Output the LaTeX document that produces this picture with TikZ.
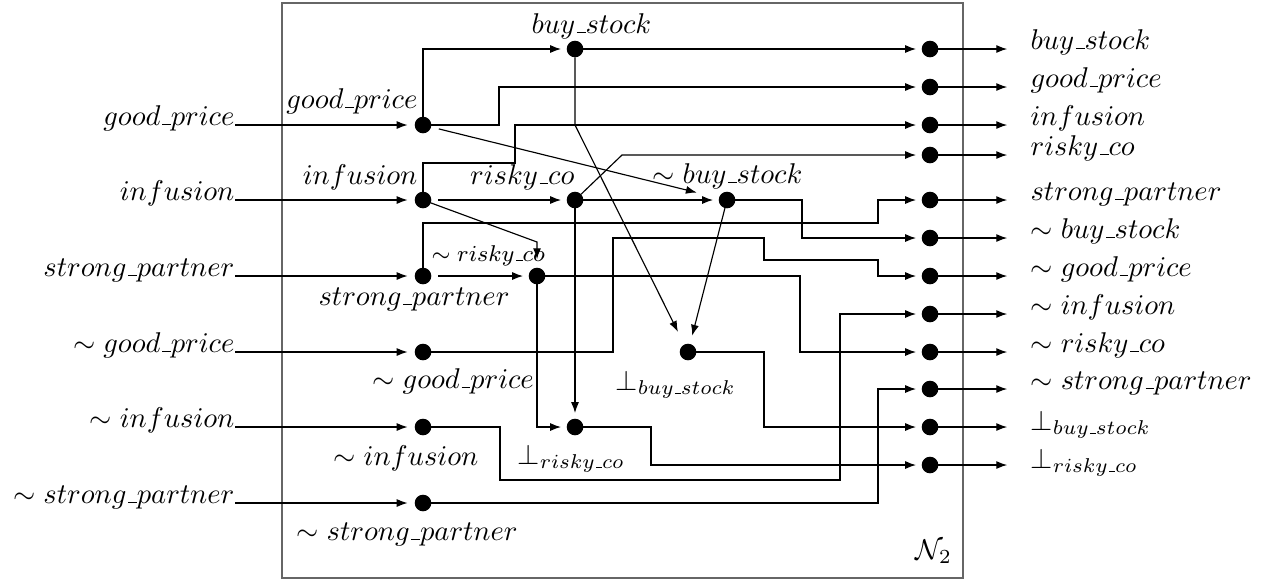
\documentclass[tikz,border=0pt]{standalone}
\usepackage{amsmath}
\usepackage{amssymb}
\usepackage{tikz}
\usetikzlibrary{arrows.meta}
\tikzset{>={Latex[length=3.8pt,width=2.8pt]}}
\tikzset{dot node/.style={circle,fill=black,draw,inner sep=0pt,minimum size=5.4pt},
         sig node/.style={inner sep=0pt},
         flow/.style={->,shorten >=2pt},
         tight/.style={shorten <=2.5pt},
            }
\newcommand{\usc}{\text{\kern.06em\vbox{\hrule width.3em}}}

\begin{document}
\begin{tikzpicture}[x=0.35pt,y=-0.35pt]
    \useasboundingbox (0,0) rectangle (1272,579);
    \draw[black!60] (282,3) rectangle (963,578);

    % input column
    \node[dot node] (gp) at (423,125) {};
    \node[dot node] (inf) at (423,200) {};
    \node[dot node] (sp) at (423,276) {};
    \node[dot node] (ngp) at (423,352) {};
    \node[dot node] (ninf) at (423,427) {};
    \node[dot node] (nsp) at (423,503) {};

    \node[sig node,anchor=base east] (lgp) at (235,125) {$good\usc price$};
    \node[sig node,anchor=base east] (linf) at (235,200) {$infusion$};
    \node[sig node,anchor=base east] (lsp) at (235,276) {$strong\usc partner$\hspace{3.8pt}};
    \node[sig node,anchor=base east] (lngp) at (235,352) {$\sim good\usc price$};
    \node[sig node,anchor=base east] (lninf) at (235,427) {$\sim infusion$};
    \node[sig node,anchor=base east] (lnsp) at (235,503) {$\sim strong\usc partner$};

    \node[sig node,anchor=base east] at (418,108) {$good\usc price$};
    \node[sig node,anchor=base east] at (418,184) {$infusion$};
    \node[sig node,anchor=base west] at (318,305) {$strong\usc partner$};
    \node[sig node,anchor=base west] at (372,388) {$\sim good\usc price$};
    \node[sig node,anchor=base west] at (333,465) {$\sim infusion$};
    \node[sig node,anchor=base west] at (296,540) {$\sim strong\usc partner$};

    % inner nodes
    \node[dot node] (bs) at (575,49) {};
    \node[dot node] (rc) at (575,200) {};
    \node[dot node] (nbs) at (727,200) {};
    \node[dot node] (nrc) at (537,276) {};
    \node[dot node] (fbs) at (688,352) {};
    \node[dot node] (frc) at (575,427) {};

    \node[sig node,anchor=base west] at (531,33) {$buy\usc stock$};
    \node[sig node,anchor=base east] at (575,184) {$risky\usc co$};
    \node[sig node,anchor=base west] at (652,183) {$\sim buy\usc stock$};
    \node[sig node,anchor=base west] at (431,261) {\footnotesize $\sim risky\usc co$};
    \node[sig node,anchor=base west] at (615,390) {$\bot_{buy\usc stock}$};
    \node[sig node,anchor=base west] at (517,464) {$\bot_{risky\usc co}$};
    \node[sig node,anchor=base west] at (915,559) {$\mathcal{N}_2$};

    % output column
    \node[dot node] (obs) at (930,49) {};
    \node[dot node] (ogp) at (930,87) {};
    \node[dot node] (oinf) at (930,125) {};
    \node[dot node] (orc) at (930,155) {};
    \node[dot node] (osp) at (930,200) {};
    \node[dot node] (onbs) at (930,238) {};
    \node[dot node] (ongp) at (930,276) {};
    \node[dot node] (oninf) at (930,314) {};
    \node[dot node] (onrc) at (930,352) {};
    \node[dot node] (onsp) at (930,389) {};
    \node[dot node] (ofbs) at (930,427) {};
    \node[dot node] (ofrc) at (930,465) {};

    \node[sig node,anchor=base west] (tbs) at (1030,49) {$buy\usc stock$};
    \node[sig node,anchor=base west] (tgp) at (1030,87) {$good\usc price$};
    \node[sig node,anchor=base west] (tinf) at (1030,125) {$infusion$};
    \node[sig node,anchor=base west] (trc) at (1030,155) {$risky\usc co$};
    \node[sig node,anchor=base west] (tsp) at (1030,200) {$strong\usc partner$};
    \node[sig node,anchor=base west] (tnbs) at (1030,238) {$\sim buy\usc stock$};
    \node[sig node,anchor=base west] (tngp) at (1030,276) {$\sim good\usc price$};
    \node[sig node,anchor=base west] (tninf) at (1030,314) {$\sim infusion$};
    \node[sig node,anchor=base west] (tnrc) at (1030,352) {$\sim risky\usc co$};
    \node[sig node,anchor=base west] (tnsp) at (1030,389) {$\sim strong\usc partner$};
    \node[sig node,anchor=base west] (tfbs) at (1030,430) {$\bot_{buy\usc stock}$};
    \node[sig node,anchor=base west] (tfrc) at (1030,468) {$\bot_{risky\usc co}$};

    % inputs in
    \draw[->,shorten >=2.5pt] (lgp.base east) -- (gp);
    \draw[->,shorten >=2.5pt] (linf.base east) -- (inf);
    \draw[->,shorten >=2.5pt] (lsp.base east) -- (sp);
    \draw[->,shorten >=2.5pt] (lngp.base east) -- (ngp);
    \draw[->,shorten >=2.5pt] (lninf.base east) -- (ninf);
    \draw[->,shorten >=2.5pt] (lnsp.base east) -- (nsp);

    % wiring
    \draw[flow] (gp) |- (bs);
    \draw[flow] (gp) -- ++(76,0) |- (ogp);
    \draw[flow,shorten <=2.8pt,shorten >=8pt] (gp) -- (nbs);
    \draw[flow] (bs) -- (obs);
    \draw[flow,shorten >=5pt] (bs) -- ++(0,76) -- (fbs);
    \draw[flow] (inf) -- ++(0,-37) -- ++(92,0) |- (oinf);
    \draw[flow,tight] (inf) -- (rc);
    \draw[flow,shorten >=3pt] (inf) -- ++(114,42) -- (nrc);
    \draw[flow] (rc) -- ++(47,-45) -- (orc);
    \draw[flow] (rc) -- (nbs);
    \draw[flow] (rc) -- (frc);
    \draw[flow] (nbs) -- ++(75,0) |- (onbs);
    \draw[flow,shorten >=3pt] (nbs) -- (fbs);
    \draw[flow] (sp) -- ++(0,-53) -- ++(455,0) |- (osp);
    \draw[flow,tight] (sp) -- (nrc);
    \draw[flow] (nrc) -- ++(263,0) |- (onrc);
    \draw[flow] (nrc) |- (frc);
    \draw[flow] (ngp) -- ++(190,0) -- ++(0,-114) -- ++(151,0) -- ++(0,22) -- ++(114,0) |- (ongp);
    \draw[flow] (fbs) -- ++(76,0) |- (ofbs);
    \draw[flow] (ninf) -- ++(77,0) -- ++(0,53) -- ++(340,0) |- (oninf);
    \draw[flow] (frc) -- ++(76,0) |- (ofrc);
    \draw[flow] (nsp) -- ++(455,0) |- (onsp);

    % outputs out
    \foreach \a/\b in {obs/tbs,ogp/tgp,oinf/tinf,orc/trc,osp/tsp,onbs/tnbs,
                       ongp/tngp,oninf/tninf,onrc/tnrc,onsp/tnsp,ofbs/tfbs,ofrc/tfrc}
        \draw[->,shorten >=8pt] (\a) -- (\a -| \b.base west);

\end{tikzpicture}
\end{document}
